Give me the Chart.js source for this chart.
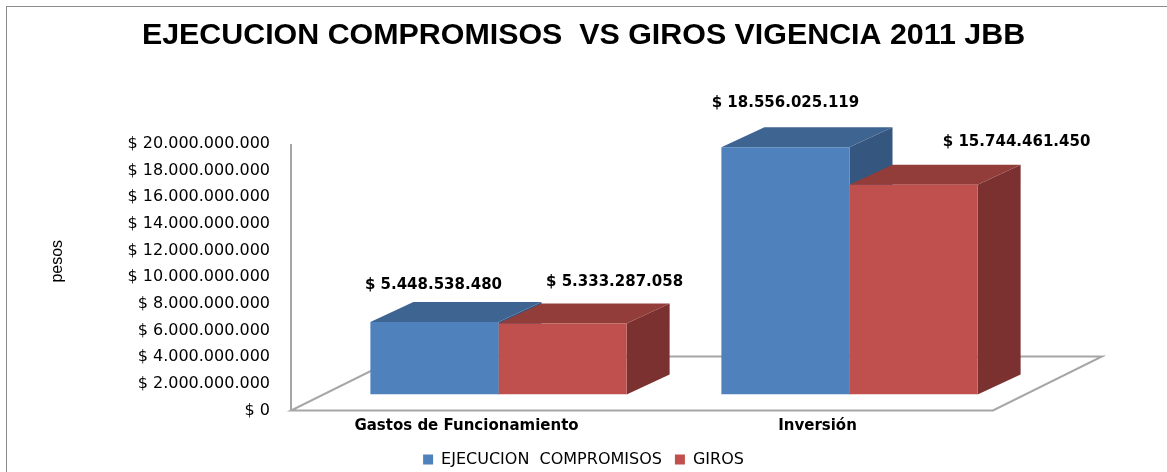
<!DOCTYPE html>
<html>
<head>
<meta charset="utf-8">
<script src="https://cdn.jsdelivr.net/npm/chart.js@4.4.1/dist/chart.umd.min.js"></script>
<style>
    html, body { margin: 0; padding: 0; background: #fff; }
    #wrap { position: relative; width: 1167px; height: 472px; overflow: hidden; }
    #frame { position: absolute; left: 6px; top: 6px; width: 1170px; height: 480px;
             border-left: 1px solid #8c8c8c; border-top: 1px solid #8c8c8c; pointer-events: none; }
</style>
</head>
<body>
<div id="wrap">
    <canvas id="jbb_chart" width="1167" height="472"></canvas>
    <div id="frame"></div>
</div>
<script>
const categories = ['Gastos de Funcionamiento', 'Inversión'];
const compromisos = [5448538480, 18556025119];
const giros = [5333287058, 15744461450];
const seriesNames = ['EJECUCION  COMPROMISOS', 'GIROS'];
const yTicks = [0, 2e9, 4e9, 6e9, 8e9, 10e9, 12e9, 14e9, 16e9, 18e9, 20e9];

// look of the fake 3d
const faceColors = [
    { front: '#4F81BD', top: '#3E6491', side: '#34567F' },
    { front: '#C0504D', top: '#933D3B', side: '#7B3130' }
];
const depth = { dx: 43, dy: 20 };
const floorFront = { dx: -32, dy: 16 };
const floorBack = { dx: 77, dy: -38 };
const labelShift = [
    [{ x: -1, y: -37 }, { x: 0, y: -44 }],
    [{ x: 52, y: -41 }, { x: 103, y: -43 }]
];

function pesos(v)
{
    return '$ ' + String(v).replace(/\B(?=(\d{3})+(?!\d))/g, '.');
}

const bar3d = {
    id: 'bar3d',
    beforeDatasetsDraw(chart) {
        const ctx = chart.ctx;
        const { left, right } = chart.chartArea;
        const yScale = chart.scales.y;
        const base = yScale.getPixelForValue(0);
        const topVal = yScale.getPixelForValue(yTicks[yTicks.length - 1]);

        // floor + axis line
        ctx.save();
        ctx.strokeStyle = '#a6a6a6';
        ctx.lineWidth = 2;
        ctx.beginPath();
        ctx.moveTo(left + floorFront.dx, base + floorFront.dy);
        ctx.lineTo(right + floorFront.dx, base + floorFront.dy);
        ctx.lineTo(right + floorBack.dx, base + floorBack.dy);
        ctx.lineTo(left + floorBack.dx, base + floorBack.dy);
        ctx.closePath();
        ctx.moveTo(left + floorFront.dx, base + floorFront.dy);
        ctx.lineTo(left + floorFront.dx, topVal + floorFront.dy);
        ctx.stroke();

        // top and side faces, fronts are drawn by chart.js
        chart.data.datasets.forEach((ds, di) => {
            const c = faceColors[di];
            chart.getDatasetMeta(di).data.forEach(bar => {
                const p = bar.getProps(['x', 'y', 'base', 'width'], true);
                const l = p.x - p.width / 2;
                const r = p.x + p.width / 2;
                ctx.fillStyle = c.side;
                ctx.beginPath();
                ctx.moveTo(r, p.y);
                ctx.lineTo(r + depth.dx, p.y - depth.dy);
                ctx.lineTo(r + depth.dx, p.base - depth.dy);
                ctx.lineTo(r, p.base);
                ctx.closePath();
                ctx.fill();
                ctx.fillStyle = c.top;
                ctx.beginPath();
                ctx.moveTo(l, p.y);
                ctx.lineTo(r, p.y);
                ctx.lineTo(r + depth.dx, p.y - depth.dy);
                ctx.lineTo(l + depth.dx, p.y - depth.dy);
                ctx.closePath();
                ctx.fill();
            });
        });
        ctx.restore();
    },
    afterDatasetsDraw(chart) {
        const ctx = chart.ctx;
        ctx.save();
        ctx.font = 'bold 15px "DejaVu Sans"';
        ctx.fillStyle = '#000';
        ctx.textAlign = 'center';
        ctx.textBaseline = 'middle';
        chart.data.datasets.forEach((ds, di) => {
            chart.getDatasetMeta(di).data.forEach((bar, i) => {
                const s = labelShift[di][i];
                ctx.fillText(pesos(ds.data[i]), bar.x + s.x, bar.y + s.y);
            });
        });
        ctx.restore();
    }
};

(function jbb_chart()
{
    const sample = document.getElementById('jbb_chart');
    const myChart = new Chart(sample, {
        type: 'bar',
        data: {
            labels: categories,
            datasets: [{
                label: seriesNames[0],
                data: compromisos,
                backgroundColor: faceColors[0].front
            }, {
                label: seriesNames[1],
                data: giros,
                backgroundColor: faceColors[1].front
            }]
        },
        options: {
            responsive: false,
            animation: false,
            categoryPercentage: 0.73,
            barPercentage: 1.0,
            layout: { padding: { left: 0, right: 0, top: 0, bottom: -5.5 } },
            scales: {
                x: {
                    grid: { display: false, drawTicks: false },
                    border: { display: false },
                    ticks: {
                        color: '#000',
                        font: { family: 'DejaVu Sans', size: 15, weight: 'bold' },
                        padding: 23,
                        labelOffset: -32,
                        maxRotation: 0,
                        autoSkip: false
                    },
                    afterFit(scale) { scale.height = 44; }
                },
                y: {
                    min: 0,
                    max: 20e9,
                    grid: { display: false, drawTicks: false },
                    border: { display: false },
                    afterBuildTicks(scale) { scale.ticks = yTicks.map(v => ({ value: v })); },
                    ticks: {
                        color: '#000',
                        font: { family: 'DejaVu Sans', size: 16 },
                        padding: 53,
                        labelOffset: 16,
                        callback: v => pesos(v)
                    },
                    title: {
                        display: true,
                        text: 'pesos',
                        color: '#000',
                        font: { family: '"Liberation Sans Narrow", "Liberation Sans"', size: 16 },
                        padding: { top: 48, bottom: 0 }
                    },
                    afterFit(scale) { scale.width = 323; }
                },
                // empty right axis, only keeps room on the right
                spacer: {
                    type: 'linear',
                    position: 'right',
                    grid: { display: false, drawTicks: false },
                    border: { display: false },
                    ticks: { display: false },
                    afterFit(scale) { scale.width = 142; }
                }
            },
            plugins: {
                title: {
                    display: true,
                    text: 'EJECUCION COMPROMISOS  VS GIROS VIGENCIA 2011 JBB',
                    color: '#000',
                    font: { family: 'Liberation Sans', size: 30.4, weight: 'bold' },
                    padding: { top: 17, bottom: 74.5 }
                },
                legend: {
                    position: 'bottom',
                    labels: {
                        color: '#000',
                        font: { family: 'DejaVu Sans', size: 16 },
                        boxWidth: 10,
                        boxHeight: 10,
                        padding: 13
                    }
                },
                tooltip: { enabled: false }
            }
        },
        plugins: [bar3d]
    });
})();
</script>
</body>
</html>
